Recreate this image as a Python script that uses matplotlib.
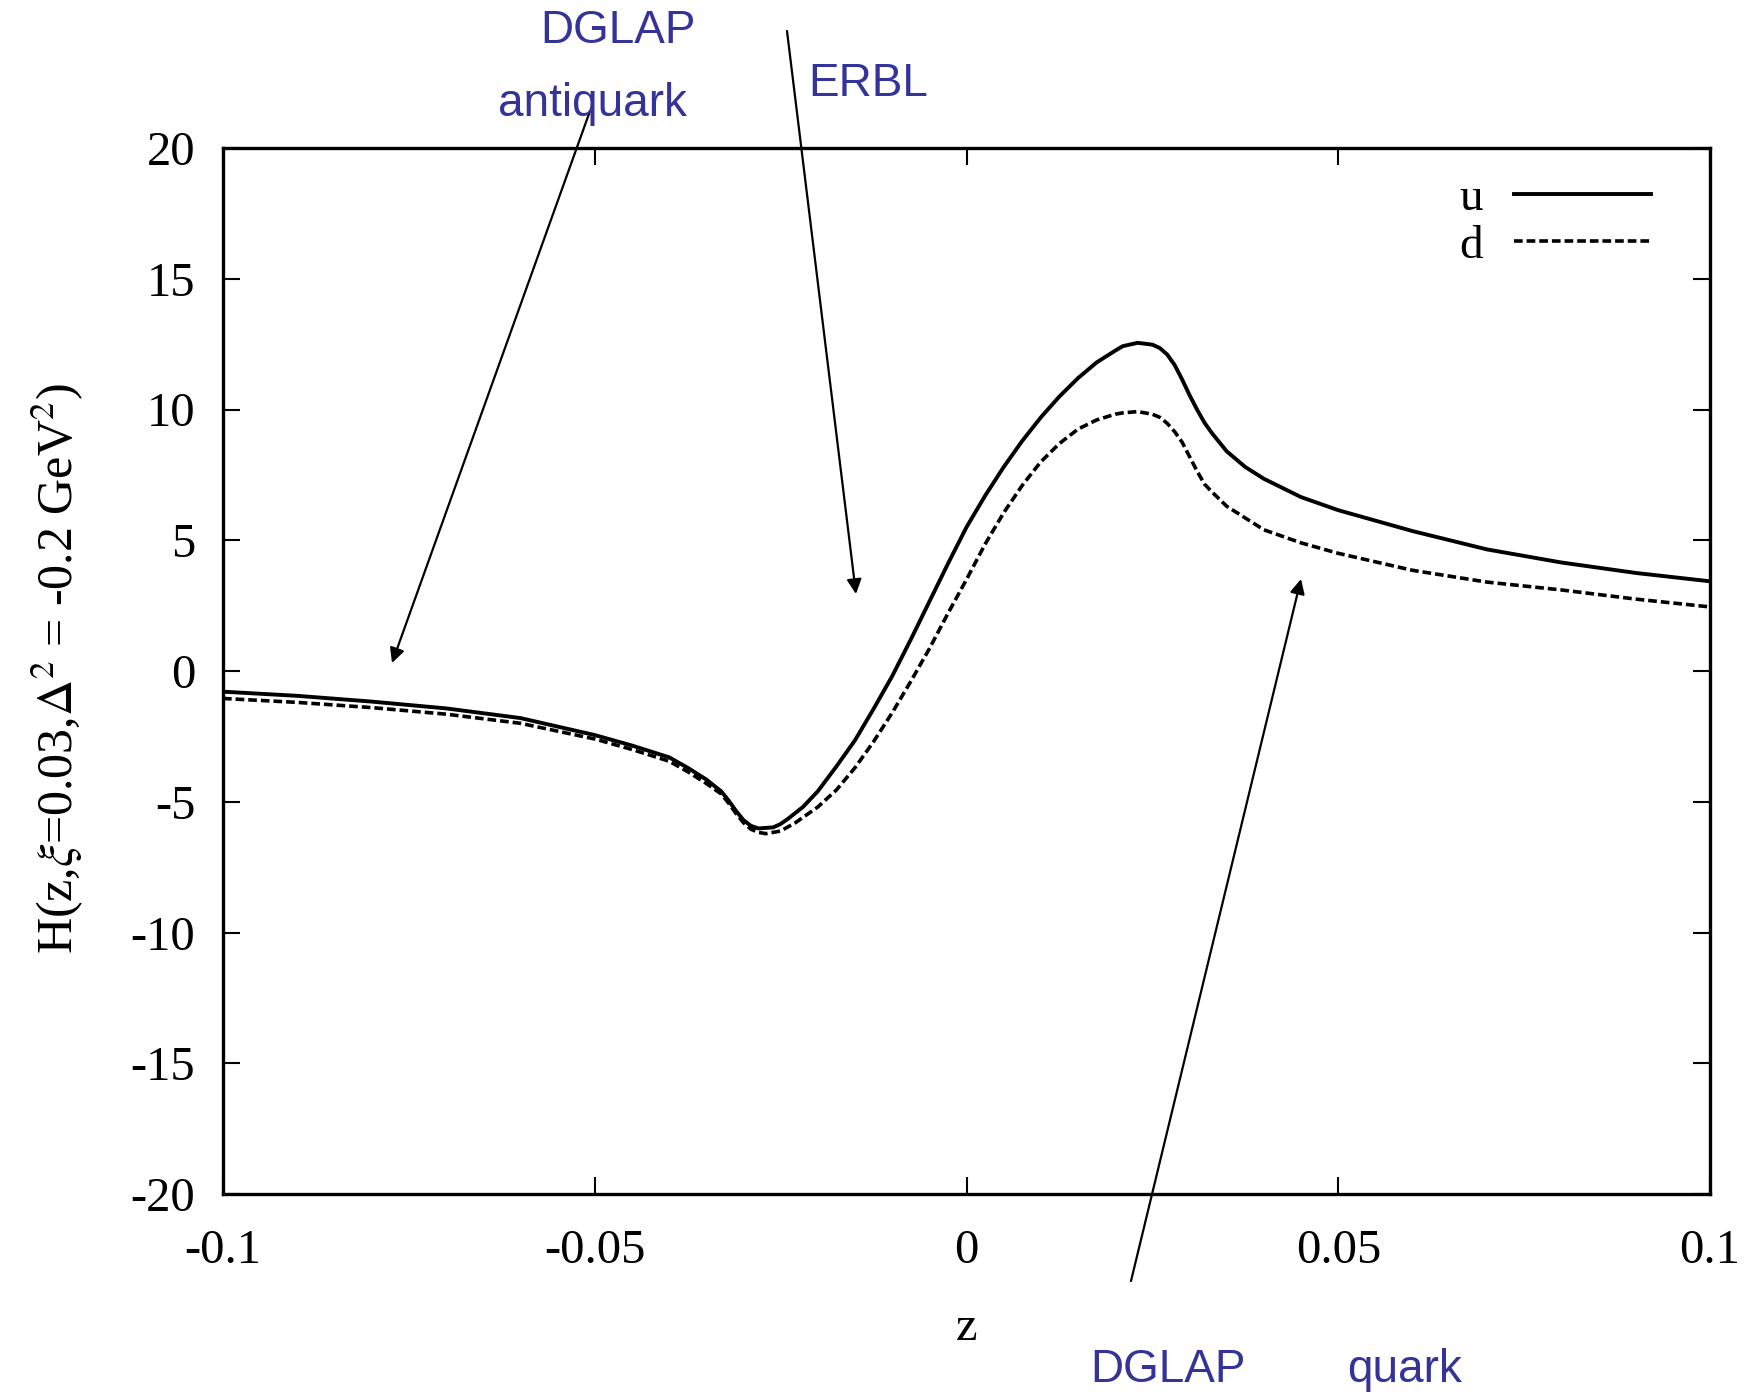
import matplotlib
matplotlib.use("Agg")
import matplotlib.pyplot as plt

# ---- data ----
z_u = [-0.1, -0.09, -0.08, -0.07, -0.06, -0.05, -0.045, -0.04, -0.0375, -0.035, -0.033,
       -0.032, -0.031, -0.03, -0.029, -0.028, -0.026, -0.025, -0.024, -0.022, -0.02,
       -0.0175, -0.015, -0.0125, -0.01, -0.0075, -0.005, -0.0025, 0.0, 0.0025, 0.005,
       0.0075, 0.01, 0.0125, 0.015, 0.0175, 0.02, 0.021, 0.023, 0.025, 0.026, 0.027,
       0.028, 0.029, 0.03, 0.031, 0.032, 0.033, 0.035, 0.0375, 0.04, 0.045, 0.05,
       0.06, 0.07, 0.08, 0.09, 0.1]
h_u = [-0.79, -0.95, -1.17, -1.43, -1.8, -2.45, -2.85, -3.3, -3.7, -4.15, -4.6,
       -4.95, -5.35, -5.7, -5.92, -6.02, -5.98, -5.85, -5.65, -5.2, -4.6,
       -3.65, -2.65, -1.45, -0.2, 1.2, 2.65, 4.1, 5.5, 6.7, 7.8,
       8.8, 9.7, 10.5, 11.2, 11.8, 12.25, 12.42, 12.55, 12.48, 12.35, 12.1,
       11.7, 11.15, 10.55, 10.0, 9.5, 9.1, 8.4, 7.8, 7.35, 6.65, 6.15,
       5.35, 4.65, 4.15, 3.75, 3.43]

z_d = [-0.1, -0.09, -0.08, -0.07, -0.06, -0.05, -0.045, -0.04, -0.0375, -0.035, -0.033,
       -0.032, -0.031, -0.03, -0.029, -0.028, -0.027, -0.025, -0.023, -0.02,
       -0.0175, -0.015, -0.0125, -0.01, -0.0075, -0.005, -0.0025, 0.0, 0.0025, 0.005,
       0.0075, 0.01, 0.0125, 0.015, 0.0175, 0.02, 0.021, 0.023, 0.025, 0.026, 0.027,
       0.028, 0.029, 0.03, 0.031, 0.032, 0.033, 0.035, 0.0375, 0.04, 0.045, 0.05,
       0.06, 0.07, 0.08, 0.09, 0.1]
h_d = [-1.05, -1.2, -1.4, -1.65, -2.0, -2.6, -3.0, -3.45, -3.85, -4.3, -4.7,
       -5.05, -5.45, -5.8, -6.05, -6.17, -6.22, -6.12, -5.8, -5.2,
       -4.55, -3.7, -2.7, -1.6, -0.4, 0.85, 2.2, 3.5, 4.85, 6.05,
       7.1, 8.0, 8.7, 9.25, 9.6, 9.82, 9.87, 9.92, 9.82, 9.7, 9.47,
       9.15, 8.75, 8.2, 7.65, 7.15, 6.85, 6.3, 5.85, 5.4, 4.9, 4.5,
       3.85, 3.4, 3.1, 2.75, 2.45]

xticks = [-0.1, -0.05, 0, 0.05, 0.1]
xticklabels = ["-0.1", "-0.05", "0", "0.05", "0.1"]
yticks = [-20, -15, -10, -5, 0, 5, 10, 15, 20]
yticklabels = ["-20", "-15", "-10", "-5", "0", "5", "10", "15", "20"]
series_labels = ["u", "d"]

W, H = 1747, 1397
plt.rcParams['font.family'] = ['Liberation Serif', 'DejaVu Serif']
plt.rcParams['mathtext.fontset'] = 'stix'

fig = plt.figure(figsize=(W / 100, H / 100), dpi=100)
ax = fig.add_axes([223 / W, 1 - 1194 / H, (1710 - 223) / W, (1194 - 148) / H])

ax.plot(z_u, h_u, color='black', lw=2.8, solid_joinstyle='round', label=series_labels[0])
ax.plot(z_d, h_d, color='black', lw=2.6, linestyle=(0, (2.4, 1.1)), label=series_labels[1])

ax.set_xlim(-0.1, 0.1)
ax.set_ylim(-20, 20)
ax.set_xticks(xticks)
ax.set_xticklabels(xticklabels)
ax.set_yticks(yticks)
ax.set_yticklabels(yticklabels)
ax.tick_params(direction='in', length=12, width=1.5, top=True, right=True,
               labelsize=35, colors='black')
ax.tick_params(axis='x', pad=25)
ax.tick_params(axis='y', pad=20)
for s in ax.spines.values():
    s.set_linewidth(2.4)

ax.set_xlabel('z', fontsize=35, labelpad=24)
ax.set_ylabel(r'H(z,$\xi$=0.03,$\Delta^2$ = -0.2 GeV$^2$)', fontsize=36)
ax.yaxis.set_label_coords((86 - 223) / 1487, (1194 - 668) / 1046)

ax.legend(loc='upper right', bbox_to_anchor=((1651 - 223) / 1487, (1194 - 177) / 1046),
          markerfirst=False,
          frameon=False, fontsize=34, handlelength=2.9, handletextpad=0.66,
          labelspacing=0.1, borderpad=0, borderaxespad=0)

blue = '#333399'
sans = ['Liberation Sans', 'DejaVu Sans']
def ftext(x, y, s):
    fig.text(x / W, 1 - y / H, s, ha='center', va='center', color=blue,
             fontsize=33, family=sans)

ftext(618, 31, 'DGLAP')
ftext(592, 104, 'antiquark')
ftext(868, 84, 'ERBL')
ftext(1168, 1370, 'DGLAP')
ftext(1405, 1370, 'quark')

def farrow(x0, y0, x1, y1):
    ax.annotate('', xy=(x1, H - y1), xycoords='figure pixels',
                xytext=(x0, H - y0), textcoords='figure pixels',
                arrowprops=dict(arrowstyle='-|>', lw=1.6, color='black',
                                mutation_scale=22, shrinkA=0, shrinkB=0),
                annotation_clip=False)

farrow(590, 111, 392, 663)
farrow(787, 31, 856, 594)
farrow(1131, 1281, 1301, 579)

fig.savefig('out.png', dpi=100)
